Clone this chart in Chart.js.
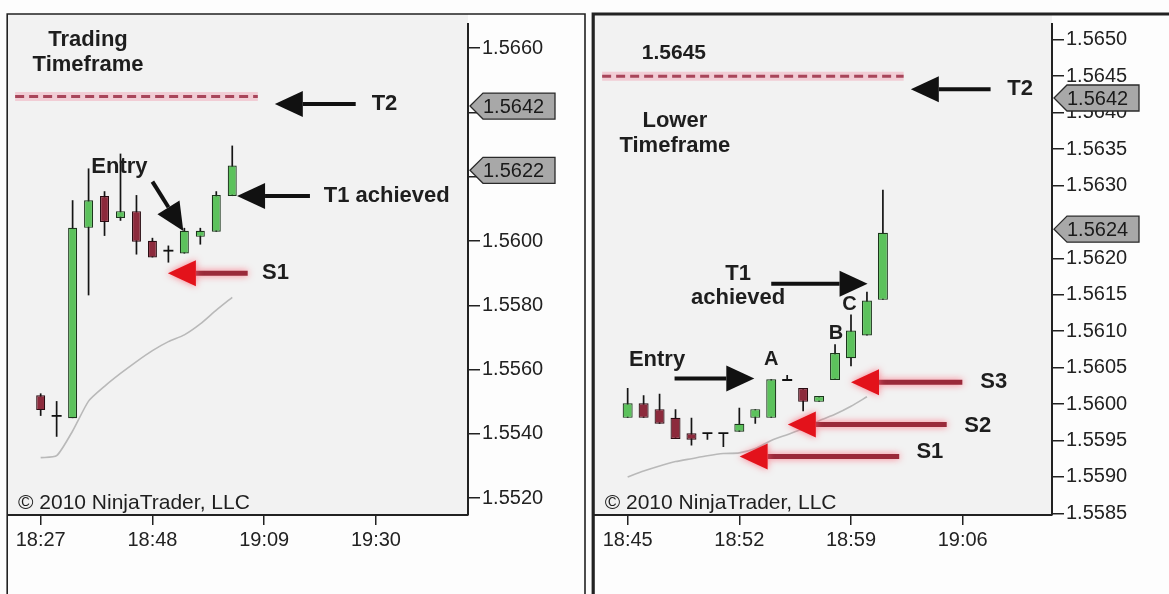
<!DOCTYPE html>
<html>
<head>
<meta charset="utf-8">
<script src="https://cdn.jsdelivr.net/npm/chart.js@4/dist/chart.umd.min.js"></script>
<style>
html, body { margin: 0; padding: 0; background: #fdfdfd; }
#wrap { position: relative; width: 1169px; height: 594px; overflow: hidden; }
#leftChart { position: absolute; left: 0; top: 0; }
#rightChart { position: absolute; left: 588px; top: 0; }
</style>
</head>
<body>
<div id="wrap">
  <canvas id="leftChart" width="588" height="594"></canvas>
  <canvas id="rightChart" width="581" height="594"></canvas>
</div>
<script>
// ---- trading timeframe (3 min bars) ----
let leftTimes = ['18:27','18:30','18:33','18:36','18:39','18:42','18:45','18:48','18:51','18:54','18:57','19:00','19:03'];
let leftOpen  = [1.55520, 1.55456, 1.55449, 1.56041, 1.56140, 1.56072, 1.56093, 1.56001, 1.55970, 1.55961, 1.56013, 1.56029, 1.56140];
let leftHigh  = [1.55526, 1.55502, 1.56127, 1.56226, 1.56155, 1.56272, 1.56143, 1.56010, 1.55986, 1.56041, 1.56041, 1.56155, 1.56297];
let leftLow   = [1.55456, 1.55391, 1.55449, 1.55831, 1.56016, 1.56063, 1.55958, 1.55949, 1.55933, 1.55961, 1.55989, 1.56029, 1.56140];
let leftClose = [1.55474, 1.55456, 1.56041, 1.56127, 1.56059, 1.56093, 1.55998, 1.55949, 1.55970, 1.56032, 1.56032, 1.56143, 1.56235];
let leftMA    = [1.55326, 1.55332, 1.55409, 1.55502, 1.55548, 1.55588, 1.55625, 1.55659, 1.55687, 1.55708, 1.55742, 1.55785, 1.55825];
let leftXTicks = ['18:27','18:48','19:09','19:30'];
let leftYTicks = [1.5520, 1.5540, 1.5560, 1.5580, 1.5600, 1.5620, 1.5640, 1.5660];
let leftTags = [1.5642, 1.5622];
let leftTarget = 1.5645;

// ---- lower timeframe (1 min bars) ----
let rightTimes = ['18:45','18:46','18:47','18:48','18:49','18:50','18:51','18:52','18:53','18:54','18:55','18:56','18:57','18:58','18:59','19:00','19:01'];
let rightOpen  = [1.55981, 1.56001, 1.55993, 1.55981, 1.55960, 1.55960, 1.55960, 1.55962, 1.55981, 1.55981, 1.56033, 1.56022, 1.56003, 1.56033, 1.56063, 1.56094, 1.56143];
let rightHigh  = [1.56022, 1.56012, 1.56014, 1.55993, 1.55981, 1.55960, 1.55960, 1.55995, 1.55993, 1.56034, 1.56040, 1.56022, 1.56011, 1.56082, 1.56123, 1.56154, 1.56294];
let rightLow   = [1.55981, 1.55981, 1.55973, 1.55952, 1.55943, 1.55951, 1.55941, 1.55962, 1.55973, 1.55981, 1.56033, 1.55990, 1.56003, 1.56033, 1.56052, 1.56094, 1.56143];
let rightClose = [1.56001, 1.55981, 1.55973, 1.55952, 1.55951, 1.55960, 1.55960, 1.55973, 1.55993, 1.56034, 1.56033, 1.56003, 1.56011, 1.56070, 1.56101, 1.56142, 1.56235];
let rightMA    = [1.55900, 1.55908, 1.55915, 1.55921, 1.55925, 1.55929, 1.55932, 1.55933, 1.55939, 1.55950, 1.55958, 1.55966, 1.55977, 1.55986, 1.55997, 1.56010, null];
let rightXTicks = ['18:45','18:52','18:59','19:06'];
let rightYTicks = [1.5585, 1.5590, 1.5595, 1.5600, 1.5605, 1.5610, 1.5615, 1.5620, 1.5630, 1.5635, 1.5640, 1.5645, 1.5650];
let rightTags = [1.5642, 1.5624];
let rightTarget = 1.5645;

const FONT = '"Liberation Sans", Arial, sans-serif';
const GREEN = '#5cc25c', GREEN_EDGE = '#1c361c';
const RED = '#8c2a3c', RED_EDGE = '#2a0c12';

// annotations: x is minutes after the first bar, y is price
const BLACK = {shaft: '#111', tip: '#111', width: 4, head: 28, half: 13};
const REDARROW = {shaft: '#9a2a3a', tip: '#e3121b', width: 5, head: 28, half: 13, glow: 'rgba(255,90,110,0.8)'};

let leftNotes = [
  {text: 'Trading', x: 8.9, y: 1.56626, align: 'center'},
  {text: 'Timeframe', x: 8.9, y: 1.56549, align: 'center'},
  {arrow: BLACK, x1: 59.2, y1: 1.56426, x2: 44.0, y2: 1.56426},
  {text: 'T2', x: 62.2, y: 1.56426},
  {arrow: BLACK, x1: 50.6, y1: 1.56140, x2: 36.9, y2: 1.56140},
  {text: 'T1 achieved', x: 53.2, y: 1.56140},
  {text: 'Entry', x: 14.8, y: 1.56232, align: 'center'},
  {arrow: BLACK, x1: 21.0, y1: 1.56185, x2: 26.8, y2: 1.56031},
  {arrow: REDARROW, x1: 38.9, y1: 1.55900, x2: 23.9, y2: 1.55900},
  {text: 'S1', x: 41.6, y: 1.55900},
  {text: '\u00a9 2010 NinjaTrader, LLC', x: -4.26, y: 1.55185, plain: true}
];

let rightNotes = [
  {text: '1.5645', x: 2.9, y: 1.56482, align: 'center', size: 21},
  {text: 'Lower', x: 2.96, y: 1.56388, align: 'center'},
  {text: 'Timeframe', x: 2.96, y: 1.56354, align: 'center'},
  {arrow: BLACK, x1: 22.75, y1: 1.56432, x2: 17.75, y2: 1.56432},
  {text: 'T2', x: 23.8, y: 1.56432},
  {text: 'T1', x: 6.92, y: 1.56178, align: 'center'},
  {text: 'achieved', x: 6.92, y: 1.56146, align: 'center'},
  {arrow: BLACK, x1: 9.0, y1: 1.56165, x2: 15.04, y2: 1.56165},
  {text: 'Entry', x: 1.84, y: 1.56060, align: 'center'},
  {arrow: BLACK, x1: 2.94, y1: 1.56035, x2: 7.94, y2: 1.56035},
  {text: 'A', x: 9.0, y: 1.56061, align: 'center', size: 20},
  {text: 'B', x: 13.06, y: 1.56097, align: 'center', size: 20},
  {text: 'C', x: 13.9, y: 1.56136, align: 'center', size: 20},
  {arrow: REDARROW, x1: 20.98, y1: 1.56030, x2: 14.0, y2: 1.56030},
  {text: 'S3', x: 22.1, y: 1.56030},
  {arrow: REDARROW, x1: 20.0, y1: 1.55972, x2: 10.04, y2: 1.55972},
  {text: 'S2', x: 21.1, y: 1.55970},
  {arrow: REDARROW, x1: 17.02, y1: 1.55928, x2: 7.02, y2: 1.55928},
  {text: 'S1', x: 18.1, y: 1.55934},
  {text: '\u00a9 2010 NinjaTrader, LLC', x: -1.44, y: 1.55864, plain: true}
];

function toMin(t) {
  let p = t.split(':');
  return Number(p[0]) * 60 + Number(p[1]);
}
function toTime(m) {
  let h = Math.floor(m / 60);
  return h + ':' + String(Math.round(m - h * 60)).padStart(2, '0');
}

function drawArrow(ctx, x1, y1, x2, y2, o) {
  let a = Math.atan2(y2 - y1, x2 - x1);
  let bx = x2 - Math.cos(a) * o.head, by = y2 - Math.sin(a) * o.head;
  ctx.save();
  if (o.glow) { ctx.shadowColor = o.glow; ctx.shadowBlur = 7; }
  ctx.strokeStyle = o.shaft;
  ctx.lineWidth = o.width;
  ctx.beginPath(); ctx.moveTo(x1, y1); ctx.lineTo(bx, by); ctx.stroke();
  ctx.fillStyle = o.tip;
  ctx.beginPath();
  ctx.moveTo(x2, y2);
  ctx.lineTo(bx + Math.sin(a) * o.half, by - Math.cos(a) * o.half);
  ctx.lineTo(bx - Math.sin(a) * o.half, by + Math.cos(a) * o.half);
  ctx.closePath(); ctx.fill();
  ctx.restore();
}

function buildChart(id, p) {
  let xs = p.times.map(toMin);
  let base = xs[0];
  let bodies = [], bodyFill = [], bodyEdge = [], flats = [], wicks = [], ma = [];
  xs.forEach((x, i) => {
    wicks.push({x: x, y: [p.low[i], p.high[i]]});
    if (p.open[i] === p.close[i]) {
      flats.push({x: x, y: p.open[i]});
    } else {
      bodies.push({x: x, y: [p.open[i], p.close[i]]});
      let up = p.close[i] > p.open[i];
      bodyFill.push(up ? GREEN : RED);
      bodyEdge.push(up ? GREEN_EDGE : RED_EDGE);
    }
    if (p.ma[i] != null) ma.push({x: x, y: p.ma[i]});
  });
  let target = [{x: base + p.dash[0], y: p.target}, {x: base + p.dash[1], y: p.target}];

  let panel = {
    id: 'panel',
    beforeDraw(chart) {
      let c = chart.ctx, a = chart.chartArea;
      c.save();
      c.fillStyle = '#f2f2f2';
      c.fillRect(a.left, a.top, a.right - a.left, a.bottom - a.top);
      c.strokeStyle = '#222';
      c.lineWidth = p.frameWidth;
      c.beginPath();
      c.moveTo(a.left - p.frameWidth / 2, chart.height);
      c.lineTo(a.left - p.frameWidth / 2, a.top);
      c.lineTo(p.frameRight, a.top);
      if (p.frameRight < chart.width) c.lineTo(p.frameRight, chart.height);
      c.stroke();
      c.restore();
    },
    afterDraw(chart) {
      // price axis line starts a little below the panel top
      let c = chart.ctx, a = chart.chartArea;
      c.save();
      c.strokeStyle = '#222';
      c.lineWidth = 2;
      c.beginPath();
      c.moveTo(a.right, a.top + 9);
      c.lineTo(a.right, a.bottom);
      c.stroke();
      c.restore();
    }
  };

  let notes = {
    id: 'notes',
    afterDraw(chart) {
      let c = chart.ctx, sx = chart.scales.x, sy = chart.scales.y;
      c.save();
      p.notes.forEach(n => {
        if (n.arrow) {
          drawArrow(c, sx.getPixelForValue(base + n.x1), sy.getPixelForValue(n.y1),
            sx.getPixelForValue(base + n.x2), sy.getPixelForValue(n.y2), n.arrow);
        } else {
          c.font = (n.plain ? '' : 'bold ') + (n.size || (n.plain ? 21 : 22)) + 'px ' + FONT;
          c.fillStyle = '#1e1e1e';
          c.textAlign = n.align || 'left';
          c.textBaseline = 'middle';
          c.fillText(n.text, sx.getPixelForValue(base + n.x), sy.getPixelForValue(n.y));
        }
      });
      // price tags on the axis
      let x0 = chart.chartArea.right;
      p.tags.forEach(v => {
        let y = sy.getPixelForValue(v);
        c.beginPath();
        c.moveTo(x0 + 2, y);
        c.lineTo(x0 + 15, y - 13);
        c.lineTo(x0 + 87, y - 13);
        c.lineTo(x0 + 87, y + 13);
        c.lineTo(x0 + 15, y + 13);
        c.closePath();
        c.fillStyle = '#a8a8a8';
        c.fill();
        c.strokeStyle = '#2a2a2a';
        c.lineWidth = 1.3;
        c.stroke();
        c.font = '20px ' + FONT;
        c.fillStyle = '#1a1a1a';
        c.textAlign = 'left';
        c.textBaseline = 'middle';
        c.fillText(v.toFixed(4), x0 + 15, y + 1);
      });
      c.restore();
    }
  };

  return new Chart(document.getElementById(id), {
    type: 'bar',
    data: {
      datasets: [
        {type: 'bar', data: bodies, backgroundColor: bodyFill, borderColor: bodyEdge, borderWidth: 1.2,
         borderSkipped: false, grouped: false, maxBarThickness: p.bodyWidth, order: 0},
        {type: 'line', data: flats, showLine: false, pointStyle: 'line', pointRadius: 5,
         pointBorderColor: '#111', pointBorderWidth: 1.8, order: 0},
        {type: 'bar', data: wicks, backgroundColor: '#151515', grouped: false, maxBarThickness: 1.7, order: 1},
        {type: 'line', data: ma, borderColor: '#b9b9b9', borderWidth: 1.6, pointRadius: 0, tension: 0.2, order: 2},
        {type: 'line', data: target, borderColor: '#a8455a', borderWidth: 3, borderDash: [9, 5], pointRadius: 0, order: 3},
        {type: 'line', data: target, borderColor: 'rgba(240,160,178,0.45)', borderWidth: 9, pointRadius: 0, order: 4}
      ]
    },
    options: {
      responsive: false,
      animation: false,
      devicePixelRatio: 1,
      layout: {padding: p.pad},
      plugins: {legend: {display: false}, tooltip: {enabled: false}},
      scales: {
        x: {
          type: 'linear', min: base + p.xRange[0], max: base + p.xRange[1], offset: false,
          grid: {display: true, offset: false, drawOnChartArea: false, tickLength: 10, color: '#222', lineWidth: 1.5},
          border: {display: true, color: '#222', width: 2},
          ticks: {color: '#222', font: {family: FONT, size: 20}, padding: 3, maxRotation: 0, autoSkip: false,
                  callback: v => toTime(v)},
          afterBuildTicks: a => { a.ticks = p.xTicks.map(t => ({value: toMin(t)})); },
          afterFit: a => { a.height = 79; }
        },
        y: {
          type: 'linear', position: 'right', min: p.yRange[0], max: p.yRange[1],
          grid: {display: true, drawOnChartArea: false, tickLength: 12, color: '#222', lineWidth: 1.5},
          border: {display: false},
          ticks: {color: '#222', font: {family: FONT, size: 20}, padding: 2, autoSkip: false,
                  callback: v => v.toFixed(4)},
          afterBuildTicks: a => { a.ticks = p.yTicks.map(v => ({value: v})); },
          afterFit: a => { a.width = 117; }
        }
      }
    },
    plugins: [panel, notes]
  });
}

buildChart('leftChart', {
  times: leftTimes, open: leftOpen, high: leftHigh, low: leftLow, close: leftClose, ma: leftMA,
  xTicks: leftXTicks, yTicks: leftYTicks, tags: leftTags, target: leftTarget, dash: [-4.8, 40.8],
  notes: leftNotes, xRange: [-6.14, 80.3], yRange: [1.551476, 1.567064],
  pad: {left: 8, top: 9, right: 3, bottom: 0}, bodyWidth: 9, frameWidth: 1.6, frameRight: 585
});

buildChart('rightChart', {
  times: rightTimes, open: rightOpen, high: rightHigh, low: rightLow, close: rightClose, ma: rightMA,
  xTicks: rightXTicks, yTicks: rightYTicks, tags: rightTags, target: rightTarget, dash: [-1.6, 17.3],
  notes: rightNotes, xRange: [-2.06, 26.6], yRange: [1.558477, 1.565353],
  pad: {left: 5, top: 9, right: 0, bottom: 0}, bodyWidth: 10, frameWidth: 3.2, frameRight: 600
});
</script>
</body>
</html>
